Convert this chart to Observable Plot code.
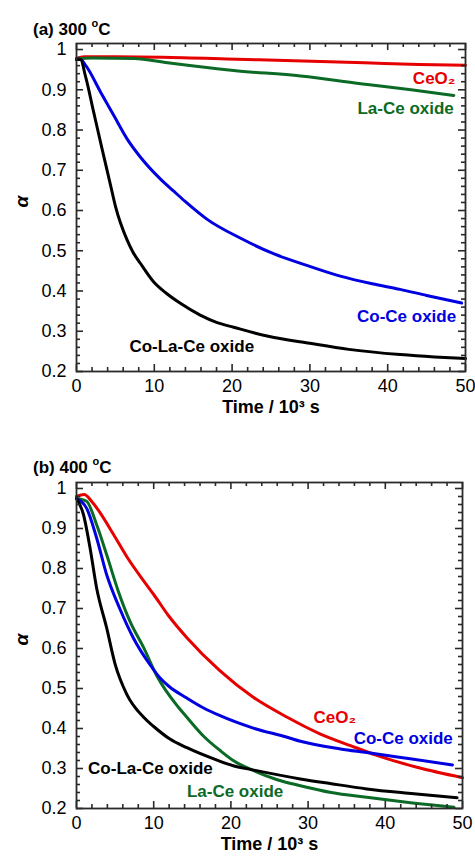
<!DOCTYPE html>
<html><head><meta charset="utf-8">
<script src="https://cdn.jsdelivr.net/npm/d3@7"></script>
<script src="https://cdn.jsdelivr.net/npm/@observablehq/plot@0.6"></script>
<style>
body{margin:0;background:#fff;font-family:"Liberation Sans",Arial,sans-serif;}
#wrap{position:relative;width:475px;height:858px;overflow:hidden;}
.title{position:absolute;left:33px;font-weight:bold;font-size:17px;line-height:20px;color:#000;white-space:nowrap;}
.title sup{font-size:11px;position:relative;top:-1px;}
.pl{position:absolute;left:0;}
</style></head><body>
<div id="wrap">
  <div id="pa" class="pl" style="top:0px"></div>
  <div id="pb" class="pl" style="top:439px"></div>
  <div class="title" style="top:14px">(a) 300 <sup>o</sup>C</div>
  <div class="title" style="top:452px">(b) 400 <sup>o</sup>C</div>
</div>
<script>
// ---- data ----
const seriesNames = ["CeO₂", "La-Ce oxide", "Co-Ce oxide", "Co-La-Ce oxide"];
const seriesColors = ["#e60000", "#0b6a25", "#0000e0", "#000000"];
const xMajor = [0, 10, 20, 30, 40, 50];
const xMinor = [2, 4, 6, 8, 12, 14, 16, 18, 22, 24, 26, 28, 32, 34, 36, 38, 42, 44, 46, 48];
const yMajor = [0.2, 0.3, 0.4, 0.5, 0.6, 0.7, 0.8, 0.9, 1.0];
const yMinor = [0.22, 0.24, 0.26, 0.28, 0.32, 0.34, 0.36, 0.38, 0.42, 0.44, 0.46, 0.48,
  0.52, 0.54, 0.56, 0.58, 0.62, 0.64, 0.66, 0.68, 0.72, 0.74, 0.76, 0.78,
  0.82, 0.84, 0.86, 0.88, 0.92, 0.94, 0.96, 0.98];

// Panel (a) 300 °C
const aCeO2T = [0, 1, 5, 11, 20.6, 28, 37, 44, 50];
const aCeO2A = [0.978, 0.982, 0.982, 0.981, 0.976, 0.972, 0.967, 0.963, 0.961];
const aLaCeT = [0, 2, 7.4, 11.7, 20.2, 28.8, 37.4, 43, 48.5];
const aLaCeA = [0.977, 0.979, 0.978, 0.967, 0.948, 0.934, 0.913, 0.9, 0.886];
const aCoCeT = [0, 0.5, 1.2, 3.1, 4.8, 6.5, 8.2, 10.8, 12.5, 14, 16.8, 21.1, 25.4, 29.7, 33.9, 38, 41.6, 45, 49.5];
const aCoCeA = [0.975, 0.975, 0.96, 0.894, 0.836, 0.778, 0.733, 0.678, 0.648, 0.622, 0.578, 0.531, 0.492, 0.463, 0.437, 0.418, 0.404, 0.389, 0.37];
const aCoLaCeT = [0, 0.5, 1.2, 2.2, 3.3, 4.4, 5.0, 6.5, 7.3, 8.2, 9.9, 11.5, 13.3, 15.9, 18, 20.2, 24.5, 30, 35, 41.6, 46, 50];
const aCoLaCeA = [0.975, 0.975, 0.93, 0.845, 0.752, 0.661, 0.611, 0.527, 0.495, 0.469, 0.423, 0.395, 0.37, 0.34, 0.322, 0.31, 0.288, 0.27, 0.255, 0.242, 0.236, 0.232];

// Panel (b) 400 °C
const bCeO2T = [0, 1, 2, 3.0, 4.8, 6.5, 8.7, 10, 12, 14.3, 18.6, 22.9, 27.3, 31.6, 35.5, 38.9, 44.1, 50];
const bCeO2A = [0.98, 0.985, 0.967, 0.941, 0.885, 0.83, 0.769, 0.735, 0.68, 0.627, 0.544, 0.478, 0.428, 0.386, 0.357, 0.333, 0.303, 0.277];
const bLaCeT = [0, 1.3, 2.6, 3.9, 5.4, 6.9, 8.7, 10.4, 13.2, 14.3, 16.5, 18.6, 20.3, 22.9, 26, 29, 33, 37.6, 43, 48.9];
const bLaCeA = [0.975, 0.968, 0.91, 0.835, 0.744, 0.669, 0.602, 0.532, 0.453, 0.428, 0.38, 0.345, 0.32, 0.295, 0.272, 0.257, 0.24, 0.228, 0.215, 0.203];
const bCoCeT = [0, 1.3, 2.6, 3.9, 5.6, 7.4, 9.5, 10.8, 12, 14.3, 16.4, 18.6, 22.9, 27.3, 29, 34.2, 37.6, 43, 48.7];
const bCoCeA = [0.975, 0.951, 0.877, 0.785, 0.7, 0.625, 0.56, 0.527, 0.505, 0.476, 0.452, 0.432, 0.401, 0.378, 0.368, 0.349, 0.34, 0.325, 0.309];
const bCoLaCeT = [0, 0.9, 1.75, 2.6, 3.9, 5.0, 6.5, 8.7, 10, 12, 14.3, 18.2, 20.3, 23, 29, 33, 37.6, 43, 49.3];
const bCoLaCeA = [0.975, 0.935, 0.852, 0.752, 0.652, 0.561, 0.486, 0.428, 0.405, 0.375, 0.352, 0.321, 0.307, 0.296, 0.274, 0.262, 0.249, 0.238, 0.227];

const xLabel = "Time / 10³ s";
const yLabel = "α";

// ---- build ----
const FONT = '"Liberation Sans", Arial, sans-serif';
function rows(name, T, A) { return T.map((t, i) => ({name, t, a: A[i]})); }

function panel({data, labelsStart, labelsEnd, height, marginTop, marginBottom, marginRight}) {
  const marginLeft = 76;
  const W = 475 - marginLeft - marginRight;   // frame width in px
  const H = height - marginTop - marginBottom; // frame height in px
  const MAJ = 7, MIN = 4;
  const ts = {stroke: "#2a2a2a", strokeWidth: 1.6};
  return Plot.plot({
    width: 475, height, marginTop, marginBottom, marginLeft, marginRight,
    style: {fontFamily: FONT, fontSize: "18px", color: "#000", background: "transparent", overflow: "visible"},
    x: {domain: [0, 50]},
    y: {domain: [0.2, 1.015]},
    color: {domain: seriesNames, range: seriesColors},
    marks: [
      Plot.line(data, {x: "t", y: "a", z: "name", stroke: "name", strokeWidth: 3, curve: "monotone-x"}),
      // tick labels
      Plot.axisX(xMajor, {anchor: "bottom", tickSize: 0, tickPadding: 8, fontSize: 18, label: null}),
      Plot.axisY(yMajor, {anchor: "left", tickSize: 0, tickPadding: 10, fontSize: 18, label: null, tickFormat: d => String(+d.toFixed(1))}),
      // inward ticks on all four sides
      Plot.tickX(xMajor, {x: d => d, insetTop: H - MAJ, ...ts}),
      Plot.tickX(xMinor, {x: d => d, insetTop: H - MIN, ...ts}),
      Plot.tickX(xMajor, {x: d => d, insetBottom: H - MAJ, ...ts}),
      Plot.tickX(xMinor, {x: d => d, insetBottom: H - MIN, ...ts}),
      Plot.tickY(yMajor, {y: d => d, insetRight: W - MAJ, ...ts}),
      Plot.tickY(yMinor, {y: d => d, insetRight: W - MIN, ...ts}),
      Plot.tickY(yMajor, {y: d => d, insetLeft: W - MAJ, ...ts}),
      Plot.tickY(yMinor, {y: d => d, insetLeft: W - MIN, ...ts}),
      Plot.frame({stroke: "#2a2a2a", strokeWidth: 1.8}),
      // series labels
      Plot.text(labelsStart, {x: "t", y: "a", text: "name", fill: "name", textAnchor: "start", fontWeight: "bold", fontSize: 17}),
      Plot.text(labelsEnd, {x: "t", y: "a", text: "name", fill: "name", textAnchor: "end", fontWeight: "bold", fontSize: 17}),
      // axis titles
      Plot.text([xLabel], {text: d => d, frameAnchor: "bottom", dy: 41, fontWeight: "bold", fontSize: 18}),
      Plot.text([yLabel], {text: d => d, frameAnchor: "left", dx: -55, rotate: -90, fontStyle: "italic", fontWeight: "bold", fontSize: 19})
    ]
  });
}

const dataA = [
  ...rows(seriesNames[0], aCeO2T, aCeO2A),
  ...rows(seriesNames[1], aLaCeT, aLaCeA),
  ...rows(seriesNames[2], aCoCeT, aCoCeA),
  ...rows(seriesNames[3], aCoLaCeT, aCoLaCeA)
];
const dataB = [
  ...rows(seriesNames[0], bCeO2T, bCeO2A),
  ...rows(seriesNames[1], bLaCeT, bLaCeA),
  ...rows(seriesNames[2], bCoCeT, bCoCeA),
  ...rows(seriesNames[3], bCoLaCeT, bCoLaCeA)
];

// label anchor points (data coordinates)
const labelsAEnd = [
  {name: seriesNames[0], t: 48.7, a: 0.928},
  {name: seriesNames[1], t: 48.5, a: 0.853},
  {name: seriesNames[2], t: 48.8, a: 0.336}
];
const labelsAStart = [{name: seriesNames[3], t: 6.8, a: 0.263}];
const labelsBStart = [
  {name: seriesNames[0], t: 30.7, a: 0.428},
  {name: seriesNames[2], t: 35.9, a: 0.374},
  {name: seriesNames[3], t: 1.5, a: 0.3},
  {name: seriesNames[1], t: 14.3, a: 0.242}
];

document.getElementById("pa").appendChild(panel({
  data: dataA, labelsStart: labelsAStart, labelsEnd: labelsAEnd,
  height: 439, marginTop: 43, marginBottom: 68, marginRight: 10
}));
document.getElementById("pb").appendChild(panel({
  data: dataB, labelsStart: labelsBStart, labelsEnd: [],
  height: 419, marginTop: 43, marginBottom: 50, marginRight: 13
}));
</script>
</body></html>
